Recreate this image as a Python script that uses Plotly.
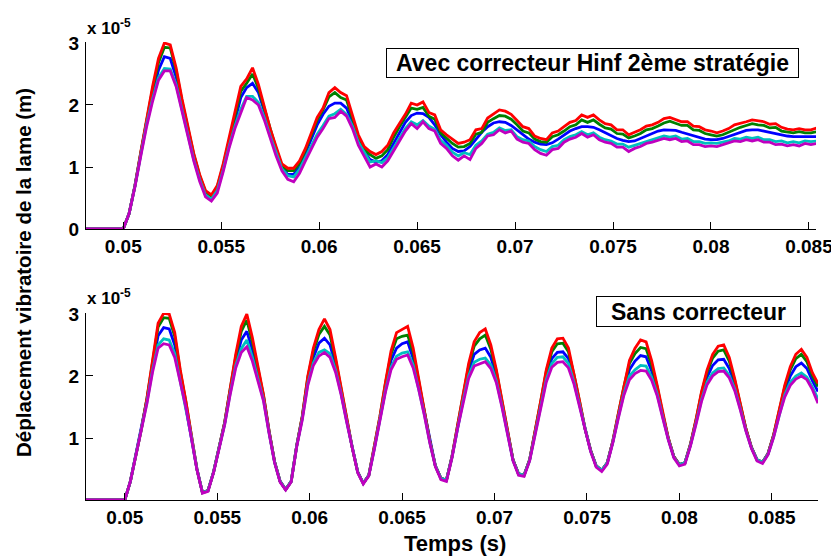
import plotly.graph_objects as go

# ---------------- data (values in units of 1e-5 m) ----------------
STEP = 0.0003  # sampling step (s) used to read the curves
t_top = [0.0481] + [round(0.05 + STEP * k, 5) for k in range(119)]
t_bot = [0.0479] + [round(0.05 + STEP * k, 5) for k in range(126)]

top_blue = [0.0,
    0.0, 0.25, 0.7, 1.22, 1.74, 2.18, 2.56, 2.78, 2.75, 2.45,
    1.98, 1.55, 1.15, 0.82, 0.58, 0.5, 0.64, 0.97, 1.37, 1.77,
    2.12, 2.28, 2.35, 2.2, 1.9, 1.55, 1.25, 0.98, 0.88, 0.88,
    1.0, 1.22, 1.45, 1.68, 1.85, 1.98, 2.03, 2.03, 1.95, 1.72,
    1.45, 1.25, 1.12, 1.08, 1.1, 1.2, 1.38, 1.55, 1.72, 1.83,
    1.87, 1.86, 1.8, 1.68, 1.52, 1.4, 1.3, 1.25, 1.26, 1.33,
    1.45, 1.56, 1.65, 1.71, 1.73, 1.72, 1.67, 1.6, 1.52, 1.45,
    1.4, 1.37, 1.36, 1.39, 1.45, 1.52, 1.58, 1.62, 1.65, 1.65,
    1.64, 1.6, 1.55, 1.5, 1.46, 1.43, 1.41, 1.42, 1.46, 1.5,
    1.55, 1.58, 1.6, 1.6, 1.59, 1.56, 1.53, 1.5, 1.47, 1.45,
    1.44, 1.44, 1.46, 1.49, 1.53, 1.56, 1.59, 1.6, 1.6, 1.58,
    1.56, 1.53, 1.51, 1.5, 1.49, 1.49, 1.49, 1.49, 1.49]
top_green = [0.0,
    0.0, 0.25, 0.7, 1.24, 1.78, 2.26, 2.68, 2.93, 2.92, 2.56,
    2.06, 1.62, 1.2, 0.86, 0.6, 0.53, 0.68, 1.02, 1.42, 1.85,
    2.22, 2.35, 2.5, 2.27, 1.94, 1.59, 1.3, 1.02, 0.94, 0.94,
    1.06, 1.27, 1.52, 1.76, 1.92, 2.13, 2.2, 2.12, 2.08, 1.8,
    1.49, 1.28, 1.2, 1.14, 1.18, 1.28, 1.48, 1.65, 1.8, 1.95,
    1.93, 1.96, 1.82, 1.77, 1.55, 1.46, 1.38, 1.32, 1.33, 1.38,
    1.53, 1.56, 1.72, 1.78, 1.83, 1.82, 1.77, 1.68, 1.58, 1.55,
    1.45, 1.41, 1.4, 1.49, 1.52, 1.58, 1.65, 1.68, 1.76, 1.72,
    1.76, 1.69, 1.63, 1.61, 1.54, 1.53, 1.47, 1.5, 1.54, 1.6,
    1.62, 1.66, 1.71, 1.74, 1.7, 1.67, 1.67, 1.6, 1.59, 1.54,
    1.52, 1.5, 1.52, 1.56, 1.61, 1.64, 1.67, 1.7, 1.68, 1.67,
    1.63, 1.64, 1.58, 1.56, 1.55, 1.57, 1.55, 1.55, 1.57]
top_red = [0.0,
    0.0, 0.25, 0.7, 1.25, 1.8, 2.3, 2.75, 3.0, 2.97, 2.6,
    2.1, 1.65, 1.22, 0.88, 0.62, 0.55, 0.7, 1.05, 1.45, 1.9,
    2.3, 2.42, 2.6, 2.33, 1.98, 1.62, 1.33, 1.05, 0.98, 0.98,
    1.1, 1.3, 1.55, 1.8, 1.95, 2.2, 2.28, 2.2, 2.15, 1.85,
    1.52, 1.33, 1.25, 1.2, 1.25, 1.35, 1.55, 1.7, 1.85, 2.03,
    2.0, 2.05, 1.88, 1.84, 1.6, 1.52, 1.45, 1.38, 1.4, 1.44,
    1.6, 1.62, 1.79, 1.85, 1.92, 1.9, 1.85, 1.75, 1.65, 1.62,
    1.5, 1.46, 1.44, 1.55, 1.58, 1.65, 1.72, 1.75, 1.84, 1.8,
    1.84, 1.76, 1.7, 1.68, 1.6, 1.6, 1.52, 1.56, 1.6, 1.66,
    1.68, 1.72, 1.78, 1.8, 1.76, 1.73, 1.73, 1.66, 1.65, 1.6,
    1.58, 1.55, 1.58, 1.62, 1.68, 1.7, 1.73, 1.76, 1.74, 1.73,
    1.69, 1.7, 1.64, 1.61, 1.6, 1.62, 1.6, 1.6, 1.63]
top_cyan = [0.0,
    0.0, 0.25, 0.69, 1.2, 1.7, 2.1, 2.44, 2.59, 2.58, 2.33,
    1.92, 1.52, 1.12, 0.8, 0.55, 0.48, 0.62, 0.95, 1.33, 1.66,
    1.93, 2.14, 2.14, 2.04, 1.8, 1.5, 1.22, 0.97, 0.86, 0.84,
    0.96, 1.15, 1.35, 1.53, 1.67, 1.82, 1.86, 1.93, 1.85, 1.66,
    1.4, 1.23, 1.08, 1.1, 1.07, 1.15, 1.3, 1.46, 1.62, 1.73,
    1.68, 1.75, 1.66, 1.61, 1.43, 1.35, 1.24, 1.18, 1.23, 1.2,
    1.35, 1.42, 1.53, 1.56, 1.63, 1.59, 1.6, 1.49, 1.44, 1.42,
    1.33, 1.28, 1.25, 1.33, 1.35, 1.44, 1.49, 1.52, 1.57, 1.52,
    1.55, 1.48, 1.44, 1.42, 1.37, 1.37, 1.32, 1.35, 1.38, 1.42,
    1.44, 1.47, 1.5, 1.48, 1.5, 1.45, 1.46, 1.41, 1.41, 1.38,
    1.39, 1.38, 1.4, 1.42, 1.46, 1.45, 1.48, 1.46, 1.48, 1.44,
    1.44, 1.41, 1.42, 1.39, 1.41, 1.39, 1.42, 1.41, 1.42]
top_magenta = [0.0,
    0.0, 0.25, 0.68, 1.18, 1.66, 2.06, 2.4, 2.55, 2.55, 2.3,
    1.9, 1.5, 1.1, 0.77, 0.52, 0.45, 0.58, 0.92, 1.3, 1.62,
    1.88, 2.12, 2.08, 2.0, 1.76, 1.46, 1.18, 0.94, 0.8, 0.76,
    0.9, 1.1, 1.3, 1.48, 1.62, 1.78, 1.8, 1.9, 1.82, 1.62,
    1.35, 1.18, 1.0, 1.05, 1.0, 1.1, 1.25, 1.42, 1.58, 1.7,
    1.62, 1.73, 1.62, 1.58, 1.38, 1.3, 1.18, 1.11, 1.18, 1.12,
    1.3, 1.38, 1.5, 1.52, 1.6, 1.55, 1.58, 1.45, 1.4, 1.38,
    1.28, 1.22, 1.19, 1.28, 1.3, 1.4, 1.45, 1.48, 1.54, 1.48,
    1.52, 1.44, 1.4, 1.38, 1.32, 1.32, 1.25, 1.3, 1.33, 1.38,
    1.4, 1.43, 1.46, 1.44, 1.46, 1.41, 1.42, 1.36, 1.36, 1.33,
    1.34, 1.33, 1.36, 1.38, 1.42, 1.41, 1.44, 1.42, 1.44, 1.4,
    1.4, 1.36, 1.37, 1.34, 1.36, 1.34, 1.38, 1.36, 1.38]

bot_blue = [0.0,
    0.0, 0.3, 0.73, 1.14, 1.62, 2.16, 2.65, 2.78, 2.76, 2.5,
    2.0, 1.56, 1.04, 0.5, 0.12, 0.15, 0.45, 0.85, 1.24, 1.76,
    2.24, 2.58, 2.72, 2.42, 2.05, 1.66, 1.11, 0.62, 0.3, 0.17,
    0.3, 0.88, 1.33, 1.94, 2.3, 2.53, 2.61, 2.5, 2.18, 1.76,
    1.29, 0.85, 0.45, 0.27, 0.4, 0.84, 1.32, 1.83, 2.25, 2.45,
    2.52, 2.55, 2.28, 1.87, 1.42, 0.94, 0.55, 0.35, 0.32, 0.7,
    1.18, 1.65, 2.08, 2.35, 2.42, 2.45, 2.3, 2.0, 1.56, 1.09,
    0.65, 0.42, 0.4, 0.65, 1.09, 1.56, 2.0, 2.28, 2.38, 2.39,
    2.28, 1.96, 1.56, 1.14, 0.8, 0.55, 0.48, 0.6, 0.94, 1.37,
    1.78, 2.1, 2.24, 2.33, 2.31, 2.08, 1.77, 1.37, 0.99, 0.7,
    0.57, 0.6, 0.89, 1.27, 1.68, 1.98, 2.17, 2.26, 2.27, 2.12,
    1.86, 1.51, 1.14, 0.85, 0.65, 0.61, 0.75, 1.04, 1.41, 1.76,
    2.0, 2.15, 2.21, 2.12, 1.92, 1.75]
bot_green = [0.0,
    0.0, 0.3, 0.73, 1.15, 1.64, 2.22, 2.79, 2.94, 2.93, 2.64,
    2.07, 1.59, 1.05, 0.5, 0.12, 0.15, 0.45, 0.85, 1.25, 1.79,
    2.31, 2.72, 2.9, 2.55, 2.12, 1.69, 1.12, 0.62, 0.3, 0.17,
    0.3, 0.88, 1.35, 1.98, 2.4, 2.67, 2.8, 2.66, 2.26, 1.79,
    1.3, 0.85, 0.45, 0.27, 0.4, 0.85, 1.34, 1.88, 2.35, 2.6,
    2.64, 2.66, 2.38, 1.92, 1.44, 0.95, 0.55, 0.35, 0.32, 0.7,
    1.2, 1.69, 2.16, 2.48, 2.6, 2.66, 2.43, 2.07, 1.59, 1.1,
    0.65, 0.42, 0.4, 0.65, 1.1, 1.59, 2.07, 2.39, 2.52, 2.53,
    2.39, 2.02, 1.59, 1.15, 0.8, 0.55, 0.48, 0.6, 0.95, 1.39,
    1.83, 2.2, 2.36, 2.46, 2.44, 2.18, 1.82, 1.39, 1.0, 0.7,
    0.57, 0.6, 0.9, 1.29, 1.73, 2.06, 2.29, 2.4, 2.42, 2.24,
    1.92, 1.54, 1.15, 0.85, 0.65, 0.61, 0.75, 1.05, 1.44, 1.82,
    2.1, 2.28, 2.35, 2.23, 2.0, 1.83]
bot_red = [0.0,
    0.0, 0.3, 0.73, 1.15, 1.65, 2.25, 2.85, 3.01, 3.0, 2.7,
    2.1, 1.6, 1.05, 0.5, 0.12, 0.15, 0.45, 0.85, 1.25, 1.8,
    2.35, 2.8, 3.0, 2.62, 2.15, 1.7, 1.12, 0.62, 0.3, 0.17,
    0.3, 0.88, 1.35, 2.0, 2.45, 2.75, 2.92, 2.75, 2.3, 1.8,
    1.3, 0.85, 0.45, 0.27, 0.4, 0.85, 1.35, 1.9, 2.4, 2.7,
    2.75, 2.8, 2.45, 1.95, 1.45, 0.95, 0.55, 0.35, 0.32, 0.7,
    1.2, 1.7, 2.2, 2.55, 2.7, 2.76, 2.5, 2.1, 1.6, 1.1,
    0.65, 0.42, 0.4, 0.65, 1.1, 1.6, 2.1, 2.45, 2.6, 2.61,
    2.45, 2.05, 1.6, 1.15, 0.8, 0.55, 0.48, 0.6, 0.95, 1.4,
    1.85, 2.25, 2.45, 2.58, 2.55, 2.25, 1.85, 1.4, 1.0, 0.7,
    0.57, 0.6, 0.9, 1.3, 1.75, 2.1, 2.35, 2.48, 2.5, 2.3,
    1.95, 1.55, 1.15, 0.85, 0.65, 0.61, 0.75, 1.05, 1.45, 1.85,
    2.15, 2.35, 2.43, 2.3, 2.05, 1.88]
bot_cyan = [0.0,
    0.0, 0.3, 0.72, 1.12, 1.58, 2.1, 2.5, 2.6, 2.58, 2.36,
    1.92, 1.52, 1.02, 0.5, 0.12, 0.15, 0.45, 0.84, 1.22, 1.72,
    2.17, 2.44, 2.58, 2.3, 1.97, 1.62, 1.09, 0.61, 0.3, 0.17,
    0.3, 0.87, 1.31, 1.88, 2.21, 2.38, 2.42, 2.36, 2.1, 1.72,
    1.27, 0.84, 0.45, 0.27, 0.4, 0.83, 1.29, 1.77, 2.14, 2.32,
    2.37, 2.39, 2.18, 1.81, 1.39, 0.93, 0.55, 0.35, 0.32, 0.69,
    1.16, 1.6, 2.0, 2.22, 2.27, 2.29, 2.18, 1.92, 1.52, 1.07,
    0.64, 0.42, 0.4, 0.64, 1.07, 1.52, 1.94, 2.2, 2.3, 2.31,
    2.2, 1.9, 1.52, 1.12, 0.79, 0.55, 0.48, 0.6, 0.93, 1.34,
    1.72, 2.0, 2.1, 2.17, 2.16, 1.98, 1.71, 1.34, 0.98, 0.69,
    0.57, 0.6, 0.88, 1.24, 1.62, 1.9, 2.05, 2.12, 2.13, 2.01,
    1.79, 1.47, 1.12, 0.84, 0.65, 0.61, 0.74, 1.02, 1.38, 1.7,
    1.9, 2.0, 2.05, 1.98, 1.82, 1.63]
bot_magenta = [0.0,
    0.0, 0.3, 0.72, 1.11, 1.56, 2.06, 2.45, 2.52, 2.5, 2.3,
    1.9, 1.5, 1.0, 0.49, 0.11, 0.14, 0.44, 0.83, 1.21, 1.7,
    2.13, 2.38, 2.47, 2.24, 1.94, 1.6, 1.08, 0.6, 0.29, 0.16,
    0.29, 0.86, 1.29, 1.85, 2.17, 2.32, 2.38, 2.3, 2.06, 1.7,
    1.26, 0.83, 0.44, 0.26, 0.39, 0.82, 1.27, 1.74, 2.1, 2.27,
    2.31, 2.34, 2.13, 1.78, 1.37, 0.92, 0.54, 0.33, 0.3, 0.68,
    1.15, 1.58, 1.96, 2.16, 2.2, 2.23, 2.12, 1.89, 1.5, 1.06,
    0.63, 0.4, 0.38, 0.63, 1.06, 1.5, 1.9, 2.14, 2.22, 2.23,
    2.13, 1.87, 1.5, 1.11, 0.78, 0.53, 0.46, 0.58, 0.92, 1.32,
    1.69, 1.94, 2.04, 2.09, 2.08, 1.93, 1.68, 1.32, 0.97, 0.68,
    0.55, 0.58, 0.87, 1.22, 1.59, 1.86, 2.0, 2.07, 2.08, 1.97,
    1.76, 1.45, 1.11, 0.83, 0.63, 0.59, 0.73, 1.01, 1.36, 1.66,
    1.85, 1.95, 2.0, 1.94, 1.78, 1.56]

x_tickvals = [0.05, 0.055, 0.06, 0.065, 0.07, 0.075, 0.08, 0.085]
x_ticktext = ["0.05", "0.055", "0.06", "0.065", "0.07", "0.075", "0.08", "0.085"]
top_ytickvals = [0, 1, 2, 3]
bot_ytickvals = [1, 2, 3]

title_top = "Avec correcteur Hinf 2ème stratégie"
title_bot = "Sans correcteur"
y_label = "Déplacement vibratoire de la lame (m)"
x_label = "Temps (s)"

# ---------------- figure ----------------
# the page body has an 8 px margin, so the figure is drawn at (8, 8)
OFF = 8
W, H = 839 - OFF, 559 - OFF


def px(x):
    return (x - OFF) / W


def py(y):
    return (559 - y) / H


colors = ["#0000FF", "#008000", "#FF0000", "#00BFBF", "#BF00BF"]
top_series = [top_blue, top_green, top_red, top_cyan, top_magenta]
bot_series = [bot_blue, bot_green, bot_red, bot_cyan, bot_magenta]

fig = go.Figure()
for ys, c in zip(top_series, colors):
    fig.add_trace(go.Scatter(x=t_top, y=ys, mode="lines", xaxis="x", yaxis="y",
                             line=dict(color=c, width=2.8), showlegend=False))
for ys, c in zip(bot_series, colors):
    fig.add_trace(go.Scatter(x=t_bot, y=ys, mode="lines", xaxis="x2", yaxis="y2",
                             line=dict(color=c, width=2.8), showlegend=False))

FONT = "Liberation Sans, Arial, sans-serif"
tickfont = dict(family=FONT, size=19, color="black", weight="bold")
axis_common = dict(showline=True, linecolor="black", linewidth=1, ticks="inside",
                   ticklen=7, tickcolor="black", tickwidth=1, showgrid=False,
                   zeroline=False, tickfont=tickfont, automargin=False)

fig.update_layout(
    width=W, height=H, margin=dict(l=0, r=0, t=0, b=0, autoexpand=False),
    paper_bgcolor="white", plot_bgcolor="white",
    xaxis=dict(domain=[px(86), px(816)], range=[0.0481, 0.08536], anchor="y",
               tickvals=x_tickvals, ticktext=x_ticktext, ticklabelstandoff=0, **axis_common),
    yaxis=dict(domain=[py(229), py(42)], range=[0, 3.016], anchor="x",
               tickvals=top_ytickvals, ticklabelstandoff=2, **axis_common),
    xaxis2=dict(domain=[px(86), px(818)], range=[0.0479, 0.0875], anchor="y2",
                tickvals=x_tickvals, ticktext=x_ticktext, ticklabelstandoff=0, **axis_common),
    yaxis2=dict(domain=[py(500), py(313)], range=[0, 3.016], anchor="x2",
                tickvals=bot_ytickvals, ticklabelstandoff=2, **axis_common),
)

ann = []
ann.append(dict(text=y_label, x=px(23), y=py(273), xref="paper", yref="paper",
                textangle=-90, showarrow=False, xanchor="center", yanchor="middle",
                font=dict(family=FONT, size=20.5, color="black", weight="bold")))
ann.append(dict(text=x_label, x=px(455), y=py(543), xref="paper", yref="paper",
                showarrow=False, xanchor="center", yanchor="middle",
                font=dict(family=FONT, size=22, color="black", weight="bold")))
for yc in (27, 297):
    ann.append(dict(text="x 10<sup>-5</sup>", x=px(85), y=py(yc), xref="paper",
                    yref="paper", showarrow=False, xanchor="left", yanchor="middle",
                    font=dict(family=FONT, size=17, color="black", weight="bold")))
ann.append(dict(text=title_top, x=px(592.5), y=py(63), xref="paper", yref="paper",
                showarrow=False, xanchor="center", yanchor="middle", width=411, height=28,
                borderpad=0, bordercolor="black", borderwidth=1, bgcolor="white",
                font=dict(family=FONT, size=23, color="black", weight="bold")))
ann.append(dict(text=title_bot, x=px(698.5), y=py(311.5), xref="paper", yref="paper",
                showarrow=False, xanchor="center", yanchor="middle", width=203, height=29,
                borderpad=0, bordercolor="black", borderwidth=1, bgcolor="white",
                font=dict(family=FONT, size=23, color="black", weight="bold")))
fig.update_layout(annotations=ann)

fig.write_html("out.html")
